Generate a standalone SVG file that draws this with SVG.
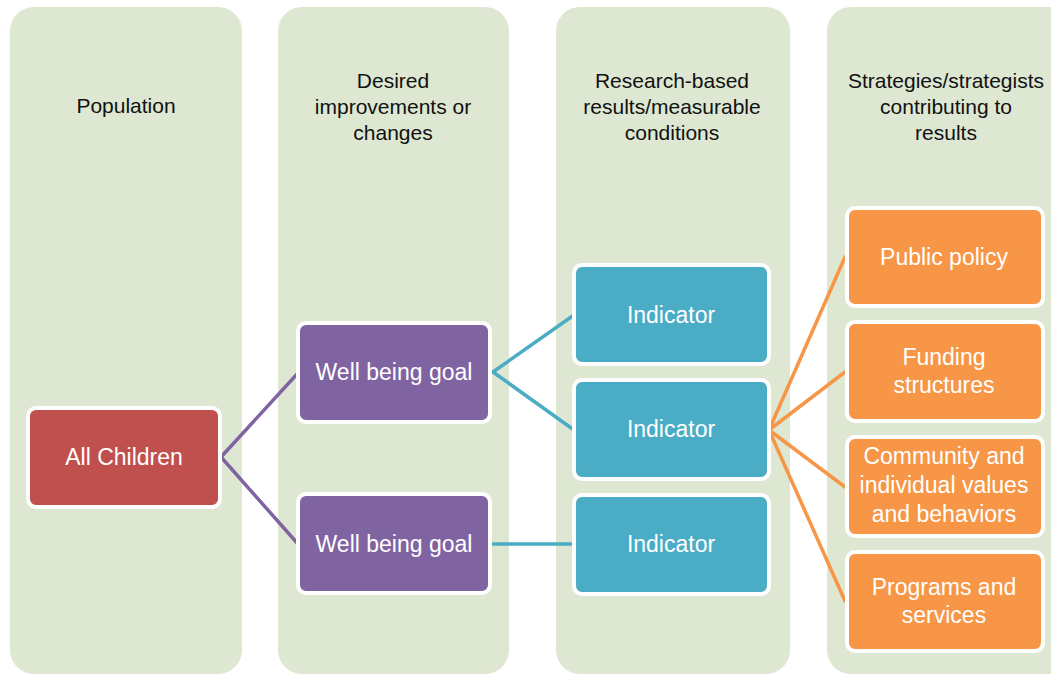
<svg xmlns="http://www.w3.org/2000/svg" width="1051" height="675" viewBox="0 0 1051 675">
<defs>
<style>
.panel{fill:#DEE7D1;}
.hdr{font-family:"Liberation Sans",Arial,sans-serif;font-size:21px;fill:#111111;text-anchor:middle;}
.node rect{stroke:#ffffff;stroke-width:4;}
.node text{font-family:"Liberation Sans",Arial,sans-serif;font-size:23px;fill:#ffffff;text-anchor:middle;}
.red rect{fill:#C0504D;}
.purple rect{fill:#8064A2;}
.teal rect{fill:#4BACC6;}
.orange rect{fill:#F79646;}
.conn line{stroke-width:3.5;stroke-linecap:round;}
</style>
</defs>
<rect width="1051" height="675" fill="#ffffff"/>
<g id="panels">
<rect class="panel" x="10" y="7" width="232" height="667" rx="24"/>
<rect class="panel" x="278" y="7" width="231" height="667" rx="24"/>
<rect class="panel" x="556" y="7" width="234" height="667" rx="24"/>
<rect class="panel" x="827" y="7" width="250" height="667" rx="24"/>
</g>
<g id="headers">
<text class="hdr" x="126" y="113">Population</text>
<text class="hdr" x="393" y="88">Desired</text>
<text class="hdr" x="393" y="114">improvements or</text>
<text class="hdr" x="393" y="140">changes</text>
<text class="hdr" x="672" y="88">Research-based</text>
<text class="hdr" x="672" y="114">results/measurable</text>
<text class="hdr" x="672" y="140">conditions</text>
<text class="hdr" x="946" y="88">Strategies/strategists</text>
<text class="hdr" x="946" y="114">contributing to</text>
<text class="hdr" x="946" y="140">results</text>
</g>
<g id="connectors" class="conn">
<line x1="221" y1="457" x2="298" y2="373" stroke="#8064A2"/>
<line x1="221" y1="457" x2="298" y2="544" stroke="#8064A2"/>
<line x1="493" y1="372" x2="574" y2="315" stroke="#4BACC6"/>
<line x1="493" y1="372" x2="574" y2="430" stroke="#4BACC6"/>
<line x1="493" y1="544" x2="574" y2="544" stroke="#4BACC6"/>
<line x1="769" y1="430" x2="845" y2="257" stroke="#F79646"/>
<line x1="769" y1="430" x2="845" y2="372" stroke="#F79646"/>
<line x1="769" y1="430" x2="845" y2="487" stroke="#F79646"/>
<line x1="769" y1="430" x2="845" y2="601" stroke="#F79646"/>
</g>
<g id="all-children" class="node red">
<rect x="28" y="408" width="192" height="99" rx="8"/>
<text x="124" y="465">All Children</text>
</g>
<g id="goal-1" class="node purple">
<rect x="298" y="323" width="192" height="99" rx="8"/>
<text x="394" y="380">Well being goal</text>
</g>
<g id="goal-2" class="node purple">
<rect x="298" y="494" width="192" height="99" rx="8"/>
<text x="394" y="552">Well being goal</text>
</g>
<g id="indicator-1" class="node teal">
<rect x="574" y="265" width="195" height="99" rx="8"/>
<text x="671" y="323">Indicator</text>
</g>
<g id="indicator-2" class="node teal">
<rect x="574" y="380" width="195" height="99" rx="8"/>
<text x="671" y="437">Indicator</text>
</g>
<g id="indicator-3" class="node teal">
<rect x="574" y="495" width="195" height="99" rx="8"/>
<text x="671" y="552">Indicator</text>
</g>
<g id="public-policy" class="node orange">
<rect x="847" y="208" width="196" height="98" rx="8"/>
<text x="944" y="265">Public policy</text>
</g>
<g id="funding" class="node orange">
<rect x="847" y="322" width="196" height="99" rx="8"/>
<text x="944" y="365">Funding</text>
<text x="944" y="393">structures</text>
</g>
<g id="community" class="node orange">
<rect x="847" y="437" width="196" height="99" rx="8"/>
<text x="944" y="464">Community and</text>
<text x="944" y="493">individual values</text>
<text x="944" y="522">and behaviors</text>
</g>
<g id="programs" class="node orange">
<rect x="847" y="552" width="196" height="99" rx="8"/>
<text x="944" y="595">Programs and</text>
<text x="944" y="623">services</text>
</g>
</svg>
